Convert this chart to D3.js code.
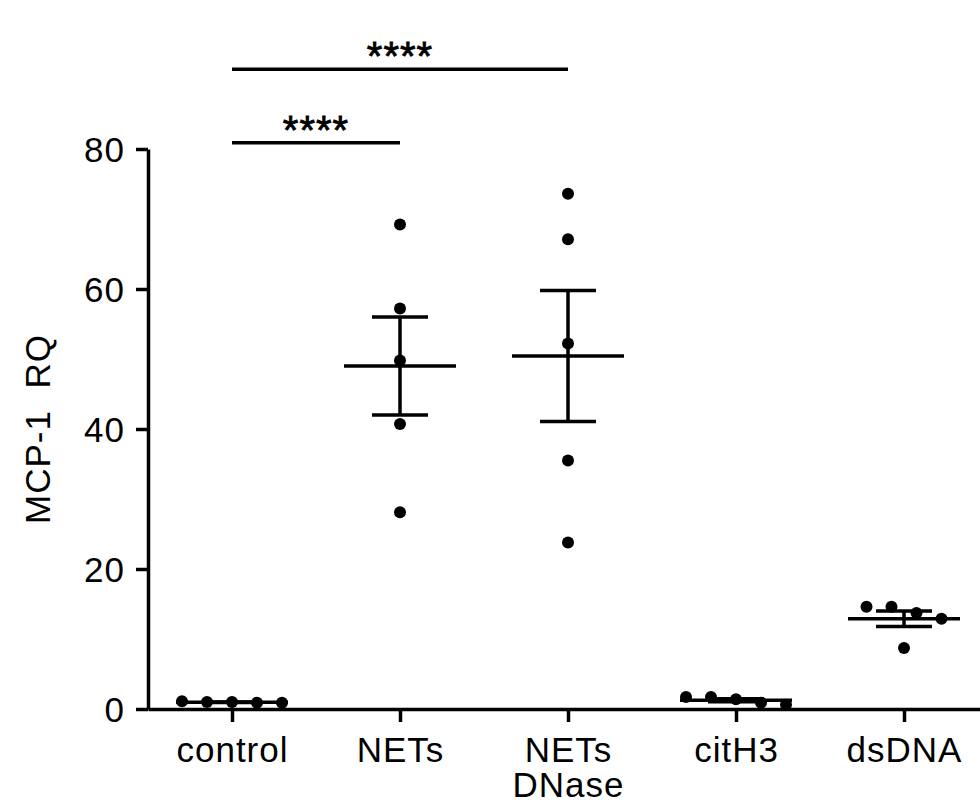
<!DOCTYPE html>
<html>
<head>
<meta charset="utf-8">
<script src="https://cdn.jsdelivr.net/npm/d3@7"></script>
<style>
  body { margin: 0; background: #fff; }
  svg text { font-family: "Liberation Sans", Arial, sans-serif; fill: #000; }
</style>
</head>
<body>
<svg id="chart" width="980" height="808"></svg>
<script>
// groups shown on the x axis (second line after \n)
var categories = ['control', 'NETs', 'NETs\nDNase', 'citH3', 'dsDNA'];

// MCP-1 RQ per replicate
var control = [1.0, 0.9, 1.1, 0.9, 1.0];
var nets = [69.2, 57.2, 49.8, 40.7, 28.1];
var netsDnase = [73.6, 67.1, 52.2, 35.5, 23.8];
var citH3 = [1.7, 1.7, 1.4, 0.9, 0.6];
var dsDNA = [14.6, 14.6, 13.7, 12.9, 8.7];

var yTicks = [0, 20, 40, 60, 80];

// significance brackets: from group, to group, label, level in RQ units
var sigFrom = [0, 0];
var sigTo = [1, 2];
var sigLabel = ['****', '****'];
var sigLevel = [80.9, 91.4];

var groups = [control, nets, netsDnase, citH3, dsDNA];

var svg = d3.select('#chart');
var plotLeft = 148, plotRight = 988, plotBottom = 709, plotTop = 149;
var sw = 3.5;

var x = d3.scaleLinear().domain([-0.5, 4.5]).range([plotLeft, plotRight]);
var y = d3.scaleLinear().domain([0, 80]).range([plotBottom, plotTop]);

var mean = function(a) { return d3.mean(a); };
var sem = function(a) { return d3.deviation(a) / Math.sqrt(a.length); };

// y axis
var yAxis = svg.append('g')
	.attr('transform', 'translate(' + plotLeft + ',0)')
	.call(d3.axisLeft(y).tickValues(yTicks).tickSize(12).tickSizeOuter(0).tickPadding(11));
yAxis.select('.domain').attr('stroke', '#000').attr('stroke-width', sw);
yAxis.selectAll('.tick line').attr('stroke', '#000').attr('stroke-width', sw);
yAxis.selectAll('.tick text').attr('font-size', 35).attr('letter-spacing', 1).attr('dy', '0.36em');

// x axis
var xAxis = svg.append('g')
	.attr('transform', 'translate(0,' + plotBottom + ')')
	.call(d3.axisBottom(x).tickValues(d3.range(categories.length)).tickSize(13).tickSizeOuter(0).tickFormat(''));
xAxis.select('.domain').attr('stroke', '#000').attr('stroke-width', sw);
xAxis.selectAll('.tick line').attr('stroke', '#000').attr('stroke-width', sw);
xAxis.selectAll('.tick').each(function(d) {
	var t = d3.select(this).append('text')
		.attr('text-anchor', 'middle')
		.attr('font-size', 35)
		.attr('letter-spacing', 1)
		.attr('y', 53);
	categories[d].split('\n').forEach(function(line, i) {
		t.append('tspan').attr('x', 0).attr('dy', i ? 35 : 0).text(line);
	});
});

// y axis title
svg.append('text')
	.attr('transform', 'translate(50,' + (plotTop + plotBottom) / 2 + ') rotate(-90)')
	.attr('text-anchor', 'middle')
	.attr('font-size', 35)
	.attr('letter-spacing', 1)
	.attr('xml:space', 'preserve')
	.text('MCP-1  RQ');

// simple beeswarm: points whose pixel heights nearly coincide share a row
var spacing = 25;
function swarm(vals) {
	var idx = d3.range(vals.length).sort(function(a, b) { return vals[b] - vals[a]; });
	var rows = [], cur = null;
	idx.forEach(function(i) {
		var py = y(vals[i]);
		if (!cur || py - cur.start > 14) { cur = { start: py, items: [] }; rows.push(cur); }
		cur.items.push(i);
	});
	var off = [];
	rows.forEach(function(r) {
		var n = r.items.length;
		r.items.forEach(function(i, k) { off[i] = (k - (n - 1) / 2) * spacing; });
	});
	return off;
}

groups.forEach(function(vals, gi) {
	var cx = x(gi);
	var off = swarm(vals);
	var g = svg.append('g');
	g.selectAll('circle').data(vals).enter().append('circle')
		.attr('cx', function(d, i) { return cx + off[i]; })
		.attr('cy', function(d) { return y(d); })
		.attr('r', 6)
		.attr('fill', '#000');

	var m = mean(vals), s = sem(vals);
	var line = function(x1, x2, y1, y2) {
		g.append('line').attr('x1', x1).attr('x2', x2).attr('y1', y1).attr('y2', y2)
			.attr('stroke', '#000').attr('stroke-width', sw);
	};
	line(cx - 56, cx + 56, y(m), y(m));
	line(cx, cx, y(m - s), y(m + s));
	line(cx - 28, cx + 28, y(m + s), y(m + s));
	line(cx - 28, cx + 28, y(m - s), y(m - s));
});

// significance brackets
sigLabel.forEach(function(lab, i) {
	var x1 = x(sigFrom[i]), x2 = x(sigTo[i]), ly = y(sigLevel[i]);
	svg.append('line').attr('x1', x1).attr('x2', x2).attr('y1', ly).attr('y2', ly)
		.attr('stroke', '#000').attr('stroke-width', sw);
	svg.append('text')
		.attr('x', (x1 + x2) / 2)
		.attr('y', ly + 1)
		.attr('text-anchor', 'middle')
		.attr('font-size', 40)
		.attr('letter-spacing', 1)
		.attr('stroke', '#000')
		.attr('stroke-width', 0.8)
		.text(lab);
});
</script>
</body>
</html>
